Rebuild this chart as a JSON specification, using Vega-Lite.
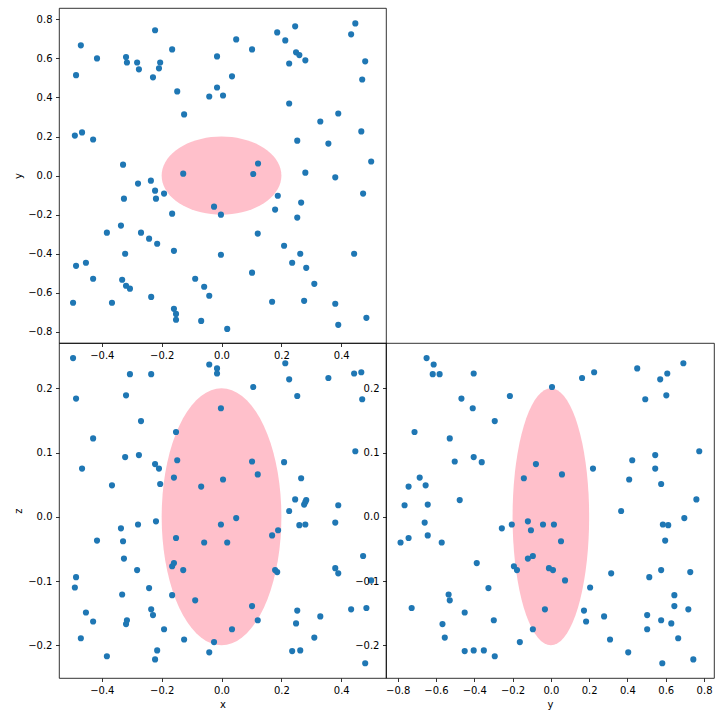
{
  "$schema": "https://vega.github.io/schema/vega-lite/v6.json",
  "padding": {"left": 13, "top": 7, "right": 5, "bottom": 5},
  "background": "white",
  "config": {
    "view": {"stroke": "black", "strokeWidth": 0.8},
    "axis": {"grid": false, "domain": false, "tickSize": 3.5, "tickColor": "black", "tickWidth": 0.8, "labelFont": "DejaVu Sans", "labelFontSize": 10, "labelColor": "black", "labelPadding": 3.5, "titleFont": "DejaVu Sans", "titleFontSize": 10, "titleFontWeight": "normal", "titleColor": "black", "titlePadding": 4, "labelFlush": false, "labelOverlap": false}
  },
  "datasets": {
    "ell": [
      {"u": -0.2, "top": 0, "bot": 0},
      {"u": -0.19924, "top": 0.01743, "bot": -0.01743},
      {"u": -0.19696, "top": 0.03473, "bot": -0.03473},
      {"u": -0.19319, "top": 0.05176, "bot": -0.05176},
      {"u": -0.18794, "top": 0.0684, "bot": -0.0684},
      {"u": -0.18126, "top": 0.08452, "bot": -0.08452},
      {"u": -0.17321, "top": 0.1, "bot": -0.1},
      {"u": -0.16383, "top": 0.11472, "bot": -0.11472},
      {"u": -0.15321, "top": 0.12856, "bot": -0.12856},
      {"u": -0.14142, "top": 0.14142, "bot": -0.14142},
      {"u": -0.12856, "top": 0.15321, "bot": -0.15321},
      {"u": -0.11472, "top": 0.16383, "bot": -0.16383},
      {"u": -0.1, "top": 0.17321, "bot": -0.17321},
      {"u": -0.08452, "top": 0.18126, "bot": -0.18126},
      {"u": -0.0684, "top": 0.18794, "bot": -0.18794},
      {"u": -0.05176, "top": 0.19319, "bot": -0.19319},
      {"u": -0.03473, "top": 0.19696, "bot": -0.19696},
      {"u": -0.01743, "top": 0.19924, "bot": -0.19924},
      {"u": 0, "top": 0.2, "bot": -0.2},
      {"u": 0.01743, "top": 0.19924, "bot": -0.19924},
      {"u": 0.03473, "top": 0.19696, "bot": -0.19696},
      {"u": 0.05176, "top": 0.19319, "bot": -0.19319},
      {"u": 0.0684, "top": 0.18794, "bot": -0.18794},
      {"u": 0.08452, "top": 0.18126, "bot": -0.18126},
      {"u": 0.1, "top": 0.17321, "bot": -0.17321},
      {"u": 0.11472, "top": 0.16383, "bot": -0.16383},
      {"u": 0.12856, "top": 0.15321, "bot": -0.15321},
      {"u": 0.14142, "top": 0.14142, "bot": -0.14142},
      {"u": 0.15321, "top": 0.12856, "bot": -0.12856},
      {"u": 0.16383, "top": 0.11472, "bot": -0.11472},
      {"u": 0.17321, "top": 0.1, "bot": -0.1},
      {"u": 0.18126, "top": 0.08452, "bot": -0.08452},
      {"u": 0.18794, "top": 0.0684, "bot": -0.0684},
      {"u": 0.19319, "top": 0.05176, "bot": -0.05176},
      {"u": 0.19696, "top": 0.03473, "bot": -0.03473},
      {"u": 0.19924, "top": 0.01743, "bot": -0.01743},
      {"u": 0.2, "top": 0, "bot": 0}
    ],
    "xy": [
      {"x":-0.222,"y":0.744},{"x":-0.470,"y":0.667},{"x":-0.416,"y":0.600},{"x":-0.319,"y":0.607},{"x":-0.316,"y":0.579},{"x":-0.282,"y":0.579},{"x":-0.276,"y":0.544},{"x":-0.205,"y":0.579},{"x":-0.209,"y":0.549},{"x":-0.165,"y":0.646},
      {"x":-0.229,"y":0.503},{"x":-0.486,"y":0.514},{"x":-0.148,"y":0.431},{"x":-0.015,"y":0.610},{"x":-0.015,"y":0.451},{"x":-0.041,"y":0.405},{"x":0.005,"y":0.410},{"x":-0.125,"y":0.313},{"x":-0.490,"y":0.205},{"x":-0.466,"y":0.221},
      {"x":-0.429,"y":0.185},{"x":-0.329,"y":0.056},{"x":-0.128,"y":0.010},{"x":0.049,"y":0.697},{"x":0.102,"y":0.646},{"x":0.186,"y":0.733},{"x":0.246,"y":0.764},{"x":0.213,"y":0.692},{"x":0.249,"y":0.631},{"x":0.260,"y":0.617},
      {"x":0.280,"y":0.590},{"x":0.226,"y":0.574},{"x":0.447,"y":0.779},{"x":0.433,"y":0.723},{"x":0.480,"y":0.585},{"x":0.470,"y":0.492},{"x":0.035,"y":0.508},{"x":0.226,"y":0.369},{"x":0.390,"y":0.318},{"x":0.330,"y":0.277},
      {"x":0.467,"y":0.226},{"x":0.253,"y":0.179},{"x":0.357,"y":0.164},{"x":0.500,"y":0.072},{"x":0.122,"y":0.062},{"x":0.106,"y":0.008},{"x":0.280,"y":0.015},{"x":0.380,"y":-0.009},{"x":-0.279,"y":-0.041},{"x":-0.236,"y":-0.026},
      {"x":-0.222,"y":-0.077},{"x":-0.219,"y":-0.118},{"x":-0.192,"y":-0.092},{"x":-0.326,"y":-0.118},{"x":-0.025,"y":-0.159},{"x":-0.002,"y":-0.200},{"x":-0.165,"y":-0.195},{"x":-0.336,"y":-0.256},{"x":-0.383,"y":-0.292},{"x":-0.269,"y":-0.292},
      {"x":-0.242,"y":-0.323},{"x":-0.215,"y":-0.349},{"x":-0.322,"y":-0.400},{"x":-0.159,"y":-0.385},{"x":-0.002,"y":-0.405},{"x":-0.486,"y":-0.462},{"x":-0.453,"y":-0.446},{"x":-0.429,"y":-0.528},{"x":-0.332,"y":-0.533},{"x":-0.319,"y":-0.564},
      {"x":-0.306,"y":-0.579},{"x":-0.235,"y":-0.621},{"x":-0.088,"y":-0.528},{"x":-0.058,"y":-0.569},{"x":-0.041,"y":-0.615},{"x":-0.496,"y":-0.651},{"x":-0.366,"y":-0.651},{"x":-0.159,"y":-0.682},{"x":-0.152,"y":-0.708},{"x":-0.152,"y":-0.738},
      {"x":-0.068,"y":-0.744},{"x":0.473,"y":-0.092},{"x":0.188,"y":-0.103},{"x":0.266,"y":-0.138},{"x":0.179,"y":-0.174},{"x":0.253,"y":-0.215},{"x":0.121,"y":-0.297},{"x":0.209,"y":-0.359},{"x":0.263,"y":-0.400},{"x":0.443,"y":-0.400},
      {"x":0.236,"y":-0.446},{"x":0.283,"y":-0.472},{"x":0.102,"y":-0.497},{"x":0.310,"y":-0.554},{"x":0.169,"y":-0.646},{"x":0.276,"y":-0.641},{"x":0.380,"y":-0.656},{"x":0.484,"y":-0.728},{"x":0.390,"y":-0.764},{"x":0.019,"y":-0.785}
    ],
    "xz": [
      {"x":-0.496,"z":0.247},{"x":-0.041,"z":0.237},{"x":-0.015,"z":0.231},{"x":-0.015,"z":0.223},{"x":-0.306,"z":0.222},{"x":-0.235,"z":0.222},{"x":-0.486,"z":0.184},{"x":-0.319,"z":0.189},{"x":-0.002,"z":0.169},{"x":-0.269,"z":0.149},
      {"x":-0.429,"z":0.122},{"x":-0.152,"z":0.132},{"x":-0.322,"z":0.093},{"x":-0.276,"z":0.096},{"x":-0.466,"z":0.075},{"x":-0.222,"z":0.082},{"x":-0.209,"z":0.075},{"x":-0.148,"z":0.088},{"x":-0.366,"z":0.049},{"x":-0.205,"z":0.051},
      {"x":-0.159,"z":0.061},{"x":-0.068,"z":0.047},{"x":0.005,"z":0.058},{"x":0.213,"z":0.239},{"x":0.226,"z":0.214},{"x":0.106,"z":0.202},{"x":0.253,"z":0.188},{"x":0.357,"z":0.216},{"x":0.443,"z":0.223},{"x":0.467,"z":0.225},
      {"x":0.470,"z":0.183},{"x":0.447,"z":0.102},{"x":0.102,"z":0.086},{"x":0.209,"z":0.085},{"x":0.121,"z":0.066},{"x":0.266,"z":0.060},{"x":0.246,"z":0.027},{"x":0.283,"z":0.026},{"x":0.276,"z":0.019},{"x":0.390,"z":0.018},
      {"x":-0.219,"z":-0.007},{"x":-0.279,"z":-0.012},{"x":-0.336,"z":-0.018},{"x":-0.416,"z":-0.037},{"x":-0.329,"z":-0.038},{"x":-0.152,"z":-0.033},{"x":-0.058,"z":-0.040},{"x":-0.002,"z":-0.012},{"x":-0.326,"z":-0.065},{"x":-0.282,"z":-0.083},
      {"x":-0.165,"z":-0.077},{"x":-0.159,"z":-0.072},{"x":-0.128,"z":-0.083},{"x":-0.486,"z":-0.094},{"x":-0.490,"z":-0.110},{"x":-0.332,"z":-0.121},{"x":-0.242,"z":-0.111},{"x":-0.165,"z":-0.122},{"x":-0.088,"z":-0.130},{"x":-0.235,"z":-0.144},
      {"x":-0.229,"z":-0.153},{"x":-0.453,"z":-0.149},{"x":-0.429,"z":-0.163},{"x":-0.316,"z":-0.161},{"x":-0.319,"z":-0.167},{"x":-0.192,"z":-0.175},{"x":-0.470,"z":-0.189},{"x":-0.125,"z":-0.191},{"x":-0.025,"z":-0.195},{"x":-0.041,"z":-0.211},
      {"x":-0.215,"z":-0.208},{"x":-0.222,"z":-0.222},{"x":-0.383,"z":-0.217},{"x":0.226,"z":0.009},{"x":0.049,"z":-0.002},{"x":0.260,"z":-0.013},{"x":0.280,"z":-0.012},{"x":0.380,"z":-0.009},{"x":0.019,"z":-0.040},{"x":0.189,"z":-0.021},
      {"x":0.169,"z":-0.029},{"x":0.473,"z":-0.061},{"x":0.179,"z":-0.083},{"x":0.186,"z":-0.086},{"x":0.380,"z":-0.080},{"x":0.390,"z":-0.088},{"x":0.500,"z":-0.099},{"x":0.102,"z":-0.139},{"x":0.121,"z":-0.161},{"x":0.253,"z":-0.146},
      {"x":0.249,"z":-0.166},{"x":0.330,"z":-0.155},{"x":0.433,"z":-0.144},{"x":0.484,"z":-0.142},{"x":0.035,"z":-0.175},{"x":0.310,"z":-0.188},{"x":0.236,"z":-0.209},{"x":0.263,"z":-0.208},{"x":0.480,"z":-0.228},{"x":0.280,"z":0.023}
    ],
    "yz": [
      {"y":-0.649,"z":0.247},{"y":-0.612,"z":0.237},{"y":-0.617,"z":0.222},{"y":-0.581,"z":0.222},{"y":-0.403,"z":0.223},{"y":-0.467,"z":0.184},{"y":-0.408,"z":0.169},{"y":-0.214,"z":0.188},{"y":-0.293,"z":0.149},{"y":-0.712,"z":0.132},
      {"y":-0.528,"z":0.122},{"y":-0.502,"z":0.086},{"y":-0.403,"z":0.093},{"y":-0.361,"z":0.085},{"y":-0.078,"z":0.082},{"y":-0.141,"z":0.060},{"y":-0.685,"z":0.061},{"y":-0.743,"z":0.047},{"y":-0.654,"z":0.049},{"y":-0.764,"z":0.018},
      {"y":-0.643,"z":0.019},{"y":-0.476,"z":0.026},{"y":0.006,"z":0.202},{"y":0.163,"z":0.216},{"y":0.226,"z":0.225},{"y":0.451,"z":0.231},{"y":0.571,"z":0.214},{"y":0.608,"z":0.223},{"y":0.692,"z":0.239},{"y":0.493,"z":0.183},
      {"y":0.603,"z":0.189},{"y":0.058,"z":0.066},{"y":0.220,"z":0.075},{"y":0.425,"z":0.088},{"y":0.545,"z":0.096},{"y":0.545,"z":0.075},{"y":0.775,"z":0.102},{"y":0.409,"z":0.058},{"y":0.576,"z":0.051},{"y":0.760,"z":0.027},
      {"y":-0.659,"z":-0.009},{"y":-0.643,"z":-0.029},{"y":-0.743,"z":-0.033},{"y":-0.785,"z":-0.040},{"y":-0.570,"z":-0.040},{"y":-0.256,"z":-0.018},{"y":-0.204,"z":-0.012},{"y":-0.120,"z":-0.007},{"y":-0.104,"z":-0.021},{"y":-0.041,"z":-0.012},
      {"y":-0.387,"z":-0.072},{"y":-0.193,"z":-0.077},{"y":-0.177,"z":-0.083},{"y":-0.120,"z":-0.065},{"y":-0.094,"z":-0.061},{"y":-0.010,"z":-0.080},{"y":-0.326,"z":-0.111},{"y":-0.534,"z":-0.121},{"y":-0.528,"z":-0.130},{"y":-0.727,"z":-0.142},
      {"y":-0.450,"z":-0.149},{"y":-0.031,"z":-0.144},{"y":-0.566,"z":-0.167},{"y":-0.298,"z":-0.161},{"y":-0.554,"z":-0.188},{"y":-0.094,"z":-0.175},{"y":-0.162,"z":-0.195},{"y":-0.450,"z":-0.209},{"y":-0.403,"z":-0.208},{"y":-0.350,"z":-0.208},
      {"y":-0.293,"z":-0.217},{"y":0.367,"z":0.009},{"y":0.697,"z":-0.002},{"y":0.585,"z":-0.012},{"y":0.613,"z":-0.013},{"y":0.597,"z":-0.037},{"y":0.016,"z":-0.012},{"y":0.053,"z":-0.038},{"y":0.011,"z":-0.083},{"y":0.074,"z":-0.099},
      {"y":0.315,"z":-0.088},{"y":0.514,"z":-0.094},{"y":0.576,"z":-0.083},{"y":0.728,"z":-0.086},{"y":0.205,"z":-0.110},{"y":0.645,"z":-0.122},{"y":0.645,"z":-0.139},{"y":0.718,"z":-0.144},{"y":0.173,"z":-0.146},{"y":0.184,"z":-0.163},
      {"y":0.278,"z":-0.155},{"y":0.503,"z":-0.153},{"y":0.576,"z":-0.161},{"y":0.629,"z":-0.166},{"y":0.503,"z":-0.175},{"y":0.665,"z":-0.189},{"y":0.309,"z":-0.191},{"y":0.404,"z":-0.211},{"y":0.582,"z":-0.228},{"y":0.744,"z":-0.222}
    ]
  },
  "spacing": 0,
  "bounds": "flush",
  "vconcat": [
    {
      "width": 327,
      "height": 335,
      "layer": [
        {
          "data": {"name": "ell"},
          "mark": {"type": "area", "color": "pink", "opacity": 1, "line": false},
          "encoding": {
            "x": {"field": "u", "type": "quantitative", "title": null, "scale": {"domain": [-0.543, 0.5495], "nice": false, "zero": false}, "axis": {"values": [-0.4, -0.2, 0, 0.2, 0.4], "format": ".1f"}},
            "y": {"field": "top", "type": "quantitative", "title": "y", "scale": {"domain": [-0.857, 0.858], "nice": false, "zero": false}, "axis": {"values": [-0.8, -0.6, -0.4, -0.2, 0, 0.2, 0.4, 0.6, 0.8], "format": ".1f"}},
            "y2": {"field": "bot"}
          }
        },
        {
          "data": {"name": "xy"},
          "mark": {"type": "circle", "color": "#1f77b4", "opacity": 1, "size": 38},
          "encoding": {
            "x": {"field": "x", "type": "quantitative", "title": null},
            "y": {"field": "y", "type": "quantitative", "title": "y"}
          }
        }
      ]
    },
    {
      "spacing": 0,
      "bounds": "flush",
      "hconcat": [
        {
          "width": 327,
          "height": 335,
          "layer": [
            {
              "data": {"name": "ell"},
              "mark": {"type": "area", "color": "pink", "opacity": 1, "line": false},
              "encoding": {
                "x": {"field": "u", "type": "quantitative", "title": "x", "scale": {"domain": [-0.543, 0.5495], "nice": false, "zero": false}, "axis": {"values": [-0.4, -0.2, 0, 0.2, 0.4], "format": ".1f"}},
                "y": {"field": "top", "type": "quantitative", "title": "z", "scale": {"domain": [-0.2509, 0.2705], "nice": false, "zero": false}, "axis": {"values": [-0.2, -0.1, 0, 0.1, 0.2], "format": ".1f"}},
                "y2": {"field": "bot"}
              }
            },
            {
              "data": {"name": "xz"},
              "mark": {"type": "circle", "color": "#1f77b4", "opacity": 1, "size": 38},
              "encoding": {
                "x": {"field": "x", "type": "quantitative", "title": "x"},
                "y": {"field": "z", "type": "quantitative", "title": "z"}
              }
            }
          ]
        },
        {
          "width": 328,
          "height": 335,
          "layer": [
            {
              "data": {"name": "ell"},
              "mark": {"type": "area", "color": "pink", "opacity": 1, "line": false},
              "encoding": {
                "x": {"field": "u", "type": "quantitative", "title": "y", "scale": {"domain": [-0.861, 0.852], "nice": false, "zero": false}, "axis": {"values": [-0.8, -0.6, -0.4, -0.2, 0, 0.2, 0.4, 0.6, 0.8], "format": ".1f"}},
                "y": {"field": "top", "type": "quantitative", "title": null, "scale": {"domain": [-0.2509, 0.2705], "nice": false, "zero": false}, "axis": {"values": [-0.2, -0.1, 0, 0.1, 0.2], "format": ".1f"}},
                "y2": {"field": "bot"}
              }
            },
            {
              "data": {"name": "yz"},
              "mark": {"type": "circle", "color": "#1f77b4", "opacity": 1, "size": 38},
              "encoding": {
                "x": {"field": "y", "type": "quantitative", "title": "y"},
                "y": {"field": "z", "type": "quantitative", "title": null}
              }
            }
          ]
        }
      ]
    }
  ]
}
